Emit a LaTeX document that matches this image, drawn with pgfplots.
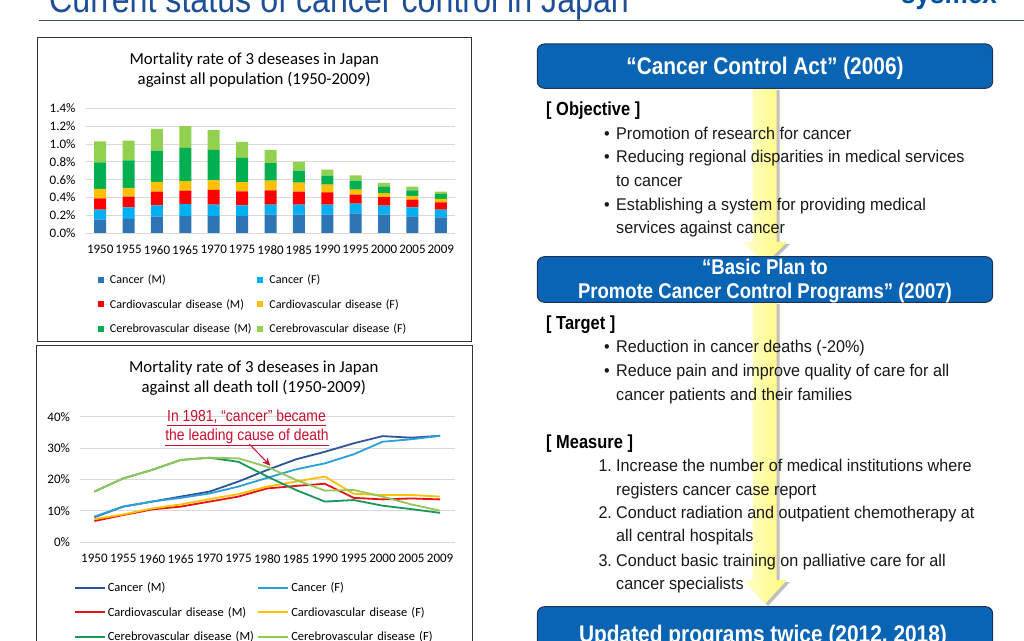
\documentclass[border=0pt]{standalone}
\usepackage{fontspec}
\setmainfont{Carlito}
\newfontfamily\arialN[FakeStretch=0.87]{Liberation Sans}
\newfontfamily\arialB[FakeStretch=0.95]{Liberation Sans}
\usepackage{pgfplots}
\pgfplotsset{compat=1.18}
\usepackage{pgfplotstable}
\usetikzlibrary{arrows.meta}

\definecolor{titleblue}{RGB}{30,78,150}
\definecolor{sysblue}{RGB}{0,80,160}
\definecolor{linecol}{RGB}{55,80,110}
\definecolor{framecol}{RGB}{50,50,50}
\definecolor{gridc}{RGB}{217,217,217}
\definecolor{bCM}{RGB}{46,117,182}
\definecolor{bCF}{RGB}{0,176,240}
\definecolor{bDM}{RGB}{255,0,0}
\definecolor{bDF}{RGB}{255,192,0}
\definecolor{bEM}{RGB}{0,176,80}
\definecolor{bEF}{RGB}{146,208,80}
\definecolor{lCM}{RGB}{46,84,150}
\definecolor{lCF}{RGB}{41,160,220}
\definecolor{lDM}{RGB}{230,20,20}
\definecolor{lDF}{RGB}{255,192,0}
\definecolor{lEM}{RGB}{25,150,90}
\definecolor{lEF}{RGB}{146,200,90}
\definecolor{annot}{RGB}{200,16,46}
\definecolor{boxblue}{RGB}{10,100,180}
\definecolor{boxedge}{RGB}{30,50,90}
\definecolor{yelL}{RGB}{255,255,205}
\definecolor{yelR}{RGB}{255,248,120}

\pgfplotstableread{
i  cm    cf    dm    df    em    ef
0  0.150 0.113 0.127 0.105 0.300 0.236
1  0.158 0.131 0.120 0.098 0.311 0.222
2  0.184 0.128 0.153 0.109 0.353 0.244
3  0.191 0.136 0.150 0.105 0.375 0.244
4  0.191 0.128 0.165 0.109 0.342 0.221
5  0.191 0.121 0.157 0.102 0.274 0.180
6  0.206 0.113 0.161 0.109 0.196 0.150
7  0.206 0.113 0.146 0.102 0.135 0.098
8  0.206 0.113 0.139 0.086 0.102 0.067
9  0.221 0.109 0.102 0.056 0.101 0.060
10 0.206 0.102 0.094 0.045 0.071 0.045
11 0.188 0.101 0.086 0.042 0.063 0.042
12 0.176 0.087 0.082 0.038 0.056 0.026
}\bardata

\pgfplotstableread{
i  cm   cf   dm   df   em   ef
0  7.9  8.1  6.7  7.3  16.1 16.1
1  11.3 11.3 8.6  8.8  20.3 20.3
2  12.9 12.9 10.4 10.7 23.0 23.0
3  14.5 14.1 11.3 12.0 26.2 26.2
4  16.1 15.5 12.9 13.7 26.9 26.9
5  19.3 17.7 14.5 15.3 25.6 26.7
6  23.0 20.5 17.1 17.7 20.9 24.0
7  26.4 23.2 17.9 19.3 16.6 19.8
8  28.8 25.1 18.6 20.9 12.9 16.4
9  31.5 28.0 14.1 15.4 13.4 16.6
10 33.8 32.0 13.6 15.0 11.6 14.5
11 33.3 32.8 13.9 15.0 10.5 12.0
12 33.9 33.9 13.6 14.5 9.3  10.0
}\linedata

\pgfplotsset{
  sqleg/.style={legend image code/.code={\fill[##1,draw=none] (0pt,-3pt) rectangle (6pt,3pt); \path (0pt,0pt) -- (10pt,0pt);}},
  lnleg/.style={legend image code/.code={\draw[##1,line width=1.8pt] (0pt,0pt) -- (28pt,0pt); \path (0pt,0pt) -- (30pt,0pt);}},
  chartbase/.style={
    scale only axis,
    xmin=-0.5, xmax=12.5,
    xtick={0,...,12},
    xticklabels={1950,1955,1960,1965,1970,1975,1980,1985,1990,1995,2000,2005,2009},
    axis line style={draw=none},
    major tick length=0pt,
    ymajorgrids,
    major grid style={gridc, line width=0.8pt},
    tick label style={font=\fontsize{13}{15}\selectfont},
    clip=false,
    legend style={draw=none, fill=none, inner sep=0pt, outer sep=0pt,
      legend columns=2, row sep=10pt,
      font=\fontsize{12.5}{15}\selectfont},
  },
}

\begin{document}
\begin{tikzpicture}[x=1pt,y=1pt]
\useasboundingbox (0,0) rectangle (1024,640);
\clip (0,0) rectangle (1024,640);
\fill[white] (0,0) rectangle (1024,640);

% header
\node[anchor=base west, inner sep=0pt, text=titleblue, font=\arialN\fontsize{37}{40}\selectfont] at (49,627) {Current status of cancer control in Japan};
\node[anchor=base east, inner sep=0pt, text=sysblue, font=\arialN\bfseries\fontsize{30}{32}\selectfont] at (997,636) {sysmex};
\draw[linecol, line width=1.2pt] (39,619.3) -- (1024,619.3);

% chart frames
\draw[framecol, line width=0.8pt] (37,603) rectangle (471.5,299);
\draw[framecol, line width=0.8pt] (36,295) rectangle (472,-10);

% chart titles
\node[align=center, inner sep=0pt, font=\fontsize{16.8}{20}\selectfont] at (254.3,570) {Mortality rate of 3 deseases in Japan\\against all population (1950-2009)};
\node[align=center, inner sep=0pt, font=\fontsize{16.8}{20}\selectfont] at (253.8,261.7) {Mortality rate of 3 deseases in Japan\\against all death toll (1950-2009)};

% chart 1
\begin{scope}[shift={(86pt,407pt)}]
\begin{axis}[chartbase,
  at={(0pt,0pt)}, anchor=south west,
  width=369pt, height=124.5pt,
  ymin=0, ymax=1.4,
  ytick={0,0.2,0.4,0.6,0.8,1.0,1.2,1.4},
  yticklabels={0.0\%,0.2\%,0.4\%,0.6\%,0.8\%,1.0\%,1.2\%,1.4\%},
  yticklabel style={xshift=-7pt},
  xticklabel style={yshift=-9pt},
  ybar stacked, bar width=12pt,
  legend style={at={(0.0325,-0.319)}, anchor=north west,
    font=\fontsize{12.1}{15}\selectfont,
    cells={anchor=west, inner sep=0pt, text height=9pt, text depth=3pt, text width=145.5pt, align=left}},
]
\addplot[fill=bCM, draw=none, sqleg] table[x=i,y=cm] {\bardata};
\addplot[fill=bCF, draw=none, sqleg] table[x=i,y=cf] {\bardata};
\addplot[fill=bDM, draw=none, sqleg] table[x=i,y=dm] {\bardata};
\addplot[fill=bDF, draw=none, sqleg] table[x=i,y=df] {\bardata};
\addplot[fill=bEM, draw=none, sqleg] table[x=i,y=em] {\bardata};
\addplot[fill=bEF, draw=none, sqleg] table[x=i,y=ef] {\bardata};
\legend{\mbox{Cancer (M)},\mbox{Cancer (F)},\mbox{Cardiovascular disease (M)},\mbox{Cardiovascular disease (F)},\mbox{Cerebrovascular disease (M)},\mbox{Cerebrovascular disease (F)}}
\end{axis}
\end{scope}

% chart 2
\begin{scope}[shift={(80pt,98pt)}]
\begin{axis}[chartbase,
  at={(0pt,0pt)}, anchor=south west,
  width=374.5pt, height=125.3pt,
  ymin=0, ymax=40,
  ytick={0,10,20,30,40},
  yticklabels={0\%,10\%,20\%,30\%,40\%},
  yticklabel style={xshift=-6.5pt},
  xticklabel style={yshift=-8.7pt},
  legend style={at={(-0.016,-0.308)}, anchor=north west,
    cells={anchor=west, inner sep=0pt, text height=9pt, text depth=3pt, text width=147.7pt, align=left}},
]
\addplot[lCM, line width=1.8pt, lnleg] table[x=i,y=cm] {\linedata};
\addplot[lCF, line width=1.8pt, lnleg] table[x=i,y=cf] {\linedata};
\addplot[lDM, line width=1.8pt, lnleg] table[x=i,y=dm] {\linedata};
\addplot[lDF, line width=1.8pt, lnleg] table[x=i,y=df] {\linedata};
\addplot[lEM, line width=1.8pt, lnleg] table[x=i,y=em] {\linedata};
\addplot[lEF, line width=1.8pt, lnleg] table[x=i,y=ef] {\linedata};
\legend{\mbox{Cancer (M)},\mbox{Cancer (F)},\mbox{Cardiovascular disease (M)},\mbox{Cardiovascular disease (F)},\mbox{Cerebrovascular disease (M)},\mbox{Cerebrovascular disease (F)}}
\end{axis}
\end{scope}

% annotation
\node[anchor=base, inner sep=0pt, text=annot, font=\arialN\fontsize{16}{18}\selectfont] at (246.5,218.3) {\underline{In 1981, “cancer” became}};
\node[anchor=base, inner sep=0pt, text=annot, font=\arialN\fontsize{16}{18}\selectfont] at (247,200) {\underline{the leading cause of death}};
\draw[annot, line width=1pt, -{Stealth[length=8pt,width=7pt]}] (249.3,196) -- (270.3,174.3);

% yellow arrows
\fill[black, opacity=0.25] (755.7,550) -- (779.7,550) -- (779.7,396) -- (790,396) -- (768,374) -- (746,396) -- (755.7,396) -- cycle;
\shade[left color=yelL, right color=yelR] (752.7,552) -- (776.7,552) -- (776.7,398) -- (787,398) -- (765,376) -- (743,398) -- (752.7,398) -- cycle;
\fill[black, opacity=0.25] (755.7,336) -- (779.7,336) -- (779.7,58) -- (790,58) -- (768,34) -- (746,58) -- (755.7,58) -- cycle;
\shade[left color=yelL, right color=yelR] (752.7,338) -- (776.7,338) -- (776.7,60) -- (787,60) -- (765,36) -- (743,60) -- (752.7,60) -- cycle;

% blue boxes
\draw[fill=boxblue, draw=boxedge, line width=1pt, rounded corners=7pt] (537.3,596) rectangle (992.7,551.7);
\draw[fill=boxblue, draw=boxedge, line width=1pt, rounded corners=7pt] (537.3,383.3) rectangle (992.7,337.7);
\draw[fill=boxblue, draw=boxedge, line width=1pt, rounded corners=7pt] (537.3,33.3) rectangle (992.7,-20);

\node[anchor=base, inner sep=0pt, text=white, font=\arialN\bfseries\fontsize{24}{26}\selectfont] at (765,565) {“Cancer Control Act” (2006)};
\node[anchor=base, inner sep=0pt, text=white, font=\arialN\bfseries\fontsize{21.3}{24}\selectfont] at (765,365) {“Basic Plan to};
\node[anchor=base, inner sep=0pt, text=white, font=\arialN\bfseries\fontsize{21.3}{24}\selectfont] at (765,341.7) {Promote Cancer Control Programs” (2007)};
\node[anchor=base, inner sep=0pt, text=white, font=\arialN\bfseries\fontsize{24}{26}\selectfont] at (763,-2) {Updated programs twice (2012, 2018)};

% section heads
\node[anchor=base west, inner sep=0pt, font=\arialN\bfseries\fontsize{18.9}{22}\selectfont] at (546,524) {[ Objective ]};
\node[anchor=base west, inner sep=0pt, font=\arialN\bfseries\fontsize{18.9}{22}\selectfont] at (546,310) {[ Target ]};
\node[anchor=base west, inner sep=0pt, font=\arialN\bfseries\fontsize{18.9}{22}\selectfont] at (546,191.7) {[ Measure ]};

% body text
\begin{scope}[every node/.style={inner sep=0pt, font=\arialB\fontsize{17}{20}\selectfont, text=black!90}]
\node[anchor=base] at (607,500.7) {•};
\node[anchor=base west] at (616,500.7) {Promotion of research for cancer};
\node[anchor=base] at (607,477) {•};
\node[anchor=base west] at (616,477) {Reducing regional disparities in medical services};
\node[anchor=base west] at (616,453.4) {to cancer};
\node[anchor=base] at (607,429.8) {•};
\node[anchor=base west] at (616,429.8) {Establishing a system for providing medical};
\node[anchor=base west] at (616,406.2) {services against cancer};

\node[anchor=base] at (607,287.3) {•};
\node[anchor=base west] at (616,287.3) {Reduction in cancer deaths (-20\%)};
\node[anchor=base] at (607,263.5) {•};
\node[anchor=base west] at (616,263.5) {Reduce pain and improve quality of care for all};
\node[anchor=base west] at (616,239.7) {cancer patients and their families};

\node[anchor=base west] at (598.3,168.3) {1.};
\node[anchor=base west] at (616,168.3) {Increase the number of medical institutions where};
\node[anchor=base west] at (616,145) {registers cancer case report};
\node[anchor=base west] at (598.3,121.3) {2.};
\node[anchor=base west] at (616,121.3) {Conduct radiation and outpatient chemotherapy at};
\node[anchor=base west] at (616,98.3) {all central hospitals};
\node[anchor=base west] at (598.3,74) {3.};
\node[anchor=base west] at (616,74) {Conduct basic training on palliative care for all};
\node[anchor=base west] at (616,51) {cancer specialists};
\end{scope}
\end{tikzpicture}
\end{document}
